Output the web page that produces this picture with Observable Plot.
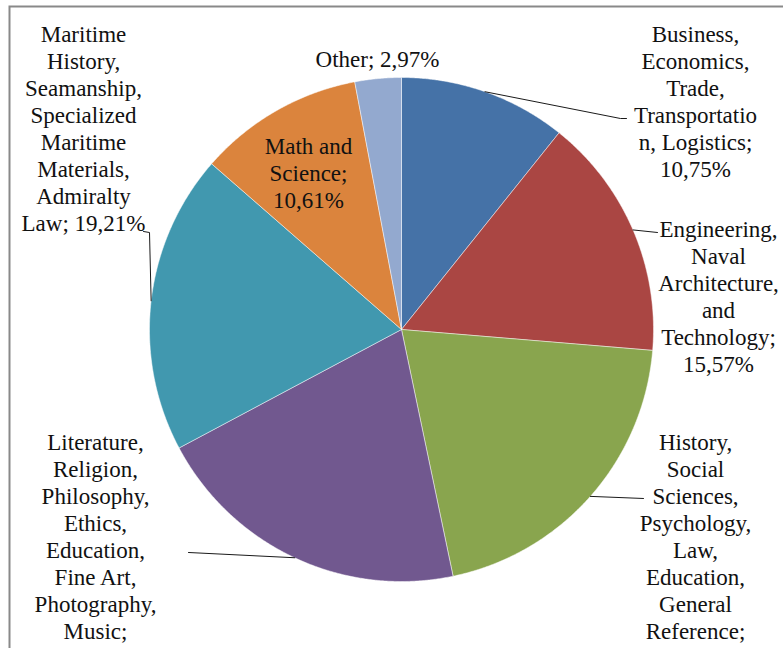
<!DOCTYPE html>
<html><head><meta charset="utf-8">
<script src="https://cdn.jsdelivr.net/npm/d3@7"></script>
<script src="https://cdn.jsdelivr.net/npm/@observablehq/plot@0.6"></script>
<style>
html,body{margin:0;padding:0;background:#fff;overflow:hidden}
#chart svg{display:block}
#chart svg, #chart svg text{font-family:"Liberation Serif","Tinos","DejaVu Serif","Noto Serif","Times New Roman",Times,serif !important}
</style></head><body><div id="chart"></div>
<script>
// ---- data ----
const categories = [
  "Business, Economics, Trade, Transportation, Logistics",
  "Engineering, Naval Architecture, and Technology",
  "History, Social Sciences, Psychology, Law, Education, General Reference",
  "Literature, Religion, Philosophy, Ethics, Education, Fine Art, Photography, Music",
  "Maritime History, Seamanship, Specialized Maritime Materials, Admiralty Law",
  "Math and Science",
  "Other"
];
const shares = [10.75, 15.57, 20.40, 20.49, 19.21, 10.61, 2.97];
const labelLines = [
  ["Business,", "Economics,", "Trade,", "Transportatio", "n, Logistics;"],
  ["Engineering,", "Naval", "Architecture,", "and", "Technology;"],
  ["History,", "Social", "Sciences,", "Psychology,", "Law,", "Education,", "General", "Reference;"],
  ["Literature,", "Religion,", "Philosophy,", "Ethics,", "Education,", "Fine Art,", "Photography,", "Music;"],
  ["Maritime", "History,", "Seamanship,", "Specialized", "Maritime", "Materials,", "Admiralty", "Law;"],
  ["Math and", "Science;"],
  ["Other;"]
];
const colors = ["#4572A7", "#AA4643", "#89A54E", "#71588F", "#4198AF", "#DB843D", "#93A9CF"];

// ---- layout (pixels relative to pie centre) ----
const W = 783, H = 648, CX = 401, CY = 329, R = 252;
// percentage placement: "line" = own line, "same" = appended, "hidden" = clipped off by the frame in the reference
const pctMode = ["line", "line", "hidden", "hidden", "same", "line", "same"];
const labelPos = [
  {x: 294, y: -229}, {x: 317, y: -33.5}, {x: 294, y: 206}, {x: -306, y: 206},
  {x: -318, y: -201.5}, {x: -93, y: -157.5}, {x: -24, y: -271}
];
const leaderBends = [
  [[219, -211], [225, -211]],
  [[256, -97]],
  [[242, 169]],
  [[-213, 223]],
  [[-252, -97], [-258, -98]],
  null,
  null
];

// ---- derived geometry ----
const total = d3.sum(shares);
const fmt = v => d3.format(".2f")(v).replace(".", ",") + "%";
let acc = 0;
const slices = categories.map((name, i) => {
  const a0 = acc / total * 2 * Math.PI;
  acc += shares[i];
  const a1 = acc / total * 2 * Math.PI;
  return {name, i, a0, a1, mid: (a0 + a1) / 2};
});
const pts = [];
for (const s of slices) {
  pts.push({name: s.name, x: 0, y: 0});
  const n = Math.max(4, Math.ceil((s.a1 - s.a0) / 0.005));
  for (let k = 0; k <= n; k++) {
    const a = s.a0 + (s.a1 - s.a0) * k / n;
    pts.push({name: s.name, x: R * Math.sin(a), y: -R * Math.cos(a)});
  }
  pts.push({name: s.name, x: 0, y: 0});
}
const leaders = [];
slices.forEach((s, i) => {
  if (!leaderBends[i]) return;
  leaders.push({name: s.name, x: R * Math.sin(s.mid), y: -R * Math.cos(s.mid)});
  for (const [x, y] of leaderBends[i]) leaders.push({name: s.name, x, y});
});
const labels = slices.map((s, i) => {
  const lines = labelLines[i].slice();
  if (pctMode[i] === "same") lines[lines.length - 1] += " " + fmt(shares[i]);
  else if (pctMode[i] === "line") lines.push(fmt(shares[i]));
  return {name: s.name, text: lines.join("\n"), x: labelPos[i].x, y: labelPos[i].y};
});

const FONT = "Liberation Serif, DejaVu Serif, serif";
const plot = Plot.plot({
  width: W, height: H,
  margin: 0,
  x: {domain: [-CX, W - CX], range: [0, W], axis: null},
  y: {domain: [-CY, H - CY], range: [0, H], axis: null},
  color: {domain: categories, range: colors},
  style: {background: "white"},
  marks: [
    Plot.frame({insetLeft: 9, insetTop: 6, insetRight: -20, insetBottom: -20, stroke: "#898989", strokeWidth: 2}),
    Plot.line(pts, {x: "x", y: "y", z: "name", fill: "name", stroke: "white", strokeOpacity: 0.6, strokeWidth: 0.8, curve: "linear"}),
    Plot.line(leaders, {x: "x", y: "y", z: "name", stroke: "#1a1a1a", strokeWidth: 1}),
    Plot.text(labels, {x: "x", y: "y", text: "text", fill: "#111", fontFamily: FONT, fontSize: 23, lineHeight: 27 / 23, lineAnchor: "middle", textAnchor: "middle"})
  ]
});
document.getElementById("chart").appendChild(plot);
</script>
</body></html>
